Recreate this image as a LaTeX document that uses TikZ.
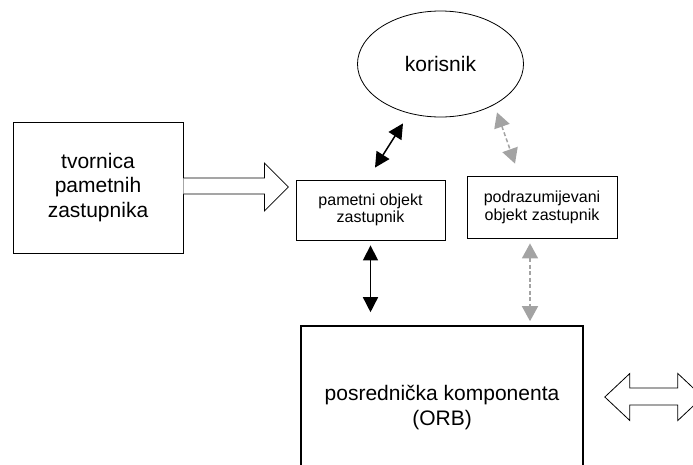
\documentclass[tikz,border=0pt]{standalone}
\usepackage{fontspec}
\setmainfont{Liberation Sans}
\usetikzlibrary{shapes.geometric,arrows.meta,calc}
\definecolor{arrowgray}{RGB}{163,163,163}
\begin{document}
\begin{tikzpicture}[x=1pt,y=-1pt,
  box/.style={draw, line width=0.8pt, inner sep=0pt, align=center},
  big/.style={font=\fontsize{21}{24.5}\selectfont},
  small/.style={font=\fontsize{16}{17.5}\selectfont},
  blk/.style={line width=1.5pt,
    {Triangle[length=15pt,width=15pt]}-{Triangle[length=15pt,width=15pt]}},
  gry/.style={draw=arrowgray, line width=1.5pt, dash pattern=on 4pt off 2.5pt,
    {Triangle[length=15pt,width=16pt]}-{Triangle[length=15pt,width=16pt]}},
  hollow/.style={draw, line width=0.8pt, fill=white, line join=miter}
]
\useasboundingbox (0,0) rectangle (693,464);
\clip (0,0) rectangle (693,464);

% boxes
\node[box, ellipse, minimum width=166pt, minimum height=106pt, big] (user) at (440.5,64) {korisnik};
\node[box, minimum width=170pt, minimum height=131pt, big] (factory) at (98,187.5) {tvornica\\pametnih\\zastupnika};
\node[box, minimum width=149pt, minimum height=60pt, small] (smart) at (370.5,210) {pametni objekt\\zastupnik};
\node[box, minimum width=150pt, minimum height=62pt, small] (default) at (542,207.5) {podrazumijevani\\objekt zastupnik};
\node[box, line width=1.6pt, minimum width=282pt, minimum height=163pt, big] (orb) at (442,407.5) {posrednička komponenta\\(ORB)};

% hollow arrow: factory produces smart proxies
\coordinate (fa) at ($(factory.east |- 0,187)$);
\draw[hollow] ($(fa)+(0,-9)$) -- ++(81,0) -- ++(0,-15) -- ($(fa)+(105,0)$)
  -- ($(fa)+(81,24)$) -- ++(0,-17) -- ($(fa)+(0,7)$);

% hollow double arrow: ORB to the outside
\coordinate (da) at ($(orb.east)+(21,-10.5)$);
\draw[hollow] (da) -- +(25,-23.5) -- +(25,-9) -- +(73,-9) -- +(73,-23.5) -- +(98,0)
  -- +(73,23.5) -- +(73,8) -- +(25,8) -- +(25,23.5) -- cycle;

% connectors
\draw[blk] ($(user.south)+(-37.5,6)$) -- ($(smart.north)+(4.5,-12)$);
\draw[gry] ($(user.south)+(56.5,-5)$) -- ($(default.north)+(-27,-12.5)$);
\draw[blk] ($(smart.south)+(0,5)$) -- ($(smart.south |- orb.north)+(0,-13)$);
\draw[gry] ($(default.south)+(-12,4.5)$) -- ($(default.south |- orb.north)+(-12,-4)$);
\end{tikzpicture}
\end{document}
